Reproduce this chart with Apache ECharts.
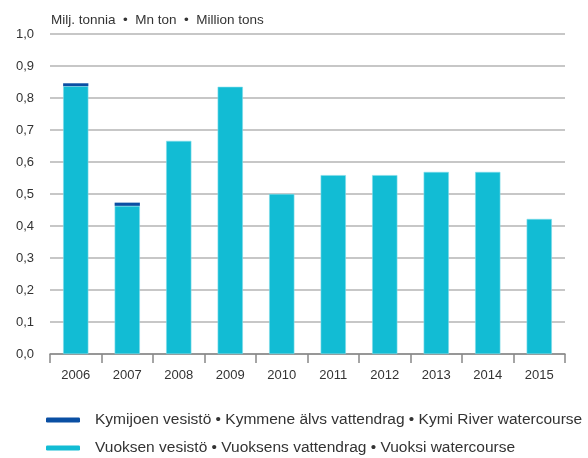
<!DOCTYPE html>
<html><head><meta charset="utf-8">
<script src="https://cdn.jsdelivr.net/npm/echarts@6/dist/echarts.min.js"></script>
<style>html,body{margin:0;padding:0;background:#fff}#c{width:588px;height:458px}</style>
</head><body><div id="c"></div>
<script>
const categories = ['2006','2007','2008','2009','2010','2011','2012','2013','2014','2015'];
const vuoksi = [0.837,0.463,0.666,0.835,0.500,0.559,0.559,0.569,0.569,0.422];
const kymi = [0.009,0.010,0,0,0,0,0,0,0,0];
const seriesNames = ['Kymijoen vesistö • Kymmene älvs vattendrag • Kymi River watercourse','Vuoksen vesistö • Vuoksens vattendrag • Vuoksi watercourse'];
const unitTitle = 'Milj. tonnia  •  Mn ton  •  Million tons';
const FONT = '"Liberation Sans", Arial, sans-serif';
const legendCommon = {orient:'vertical',left:46,padding:0,itemWidth:34,itemHeight:5,icon:'roundRect',
  itemStyle:{borderWidth:0},
  textStyle:{fontFamily:FONT,fontSize:15.5,color:'#333',padding:[0,0,0,10]}};
const chart = echarts.init(document.getElementById('c'));
chart.setOption({
  animation:false,
  textStyle:{fontFamily:FONT},
  title:{text:unitTitle,left:46,top:8,textStyle:{fontFamily:FONT,fontSize:13.5,fontWeight:'normal',color:'#333'}},
  legend:[
    Object.assign({top:412,data:[seriesNames[0]]},legendCommon),
    Object.assign({top:440,data:[seriesNames[1]]},legendCommon)
  ],
  grid:{left:50,right:23,top:34,bottom:104,containLabel:false},
  xAxis:{type:'category',data:categories,
    axisLine:{lineStyle:{color:'#888',width:1.5}},
    axisTick:{show:true,length:9,lineStyle:{color:'#888',width:1.5}},
    axisLabel:{fontFamily:FONT,fontSize:13,color:'#333',margin:15}},
  yAxis:{type:'value',min:0,max:1,interval:0.1,
    axisLine:{show:false},axisTick:{show:false},
    splitLine:{lineStyle:{color:'#b4b4b4',width:1.5}},
    axisLabel:{fontFamily:FONT,fontSize:13,color:'#333',margin:16,formatter:v=>v.toFixed(1).replace('.',',')}},
  series:[
    {name:seriesNames[1],type:'bar',stack:'s',data:vuoksi,barWidth:'49%',
      itemStyle:{color:'#12BCD4',borderColor:'#7fdcea',borderWidth:0.6}},
    {name:seriesNames[0],type:'bar',stack:'s',data:kymi,barWidth:'49%',
      itemStyle:{color:'#0A4FA3'}}
  ]
});
</script></body></html>
